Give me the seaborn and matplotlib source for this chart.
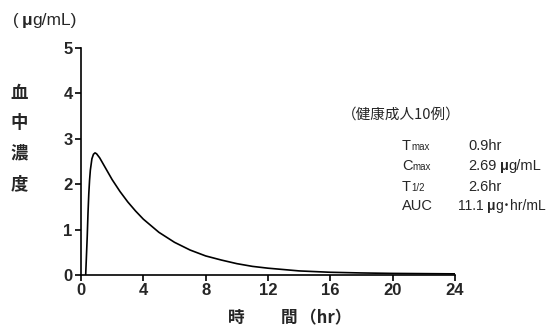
import numpy as np
import pandas as pd
import matplotlib
matplotlib.use("Agg")
import matplotlib.pyplot as plt
import seaborn as sns

# serum concentration
hours = [0.3, 0.4, 0.45, 0.5, 0.55, 0.6, 0.7, 0.8, 0.9, 1.0, 1.2, 1.5, 2.0, 2.5,
         3.0, 3.5, 4.0, 5.0, 6.0, 7.0, 8.0, 9.0, 10.0, 11.0, 12.0, 14.0, 16.0,
         18.0, 20.0, 22.0, 24.0]
conc = [0.0, 0.85, 1.37, 1.79, 2.09, 2.31, 2.56, 2.66, 2.69, 2.67, 2.58, 2.40, 2.10,
        1.84, 1.61, 1.41, 1.23, 0.94, 0.72, 0.55, 0.42, 0.33, 0.25, 0.19, 0.15,
        0.09, 0.06, 0.045, 0.035, 0.03, 0.025]
x_ticks = [0, 4, 8, 12, 16, 20, 24]
y_ticks = [0, 1, 2, 3, 4, 5]
pk_names = [("T", "max"), ("C", "max"), ("T", "1/2"), ("AUC", "")]
pk_values = [["0.9hr"], ["2.69 ", "μ", "g/mL"], ["2.6hr"], ["11.1 ", "μ", "g", "･", "hr/mL"]]

sns.set_style("ticks")
plt.rcParams['font.family'] = ['Liberation Sans', 'Noto Sans CJK JP']

W, H = 548, 327
fig = plt.figure(figsize=(W / 100, H / 100), dpi=100)
ax = fig.add_axes([81 / W, 1 - 275 / H, (455 - 81) / W, (275 - 48) / H])

df = pd.DataFrame({"hr": hours, "conc": conc})
sns.lineplot(data=df, x="hr", y="conc", ax=ax, color="black", linewidth=1.2)

ax.set_xlim(0, 24)
ax.set_ylim(0, 5)
ax.set_xticks(x_ticks)
ax.set_yticks(y_ticks)
ax.set_xlabel("")
ax.set_ylabel("")
sns.despine(ax=ax)
for s in ["left", "bottom"]:
    ax.spines[s].set_linewidth(1.2)
    ax.spines[s].set_color("black")
ax.tick_params(direction="out", length=4, width=1.2, color="black",
               labelsize=12, pad=2)
for lab in ax.get_xticklabels() + ax.get_yticklabels():
    lab.set_fontweight("bold")

cjk = ['Noto Sans CJK JP', 'Liberation Sans']
renderer = fig.canvas.get_renderer()


def ftext(x, y, s, **kw):
    return fig.text(x / W, 1 - y / H, s, **kw)


def run(x, y, pieces, size):
    # draw text pieces one after another on a common baseline
    for s in pieces:
        kw = dict(fontsize=size, va="baseline")
        if s == "μ":
            kw.update(fontweight="bold")
        if s == "･":
            kw.update(family=cjk, fontweight="bold")
        gap = 0
        if s.endswith(" "):
            s = s.rstrip()
            gap = size * 0.3
        t = ftext(x, y, s, **kw)
        x += t.get_window_extent(renderer).width + gap
    return x


# unit and vertical y label
ftext(13, 20, "(", fontsize=12, va="center")
run(22, 24.5, ["μ", "g/mL)"], 12.5)
for i, ch in enumerate("血中濃度"):
    ftext(19, 93 + i * 30.5, ch, fontsize=12.5, va="center", ha="center",
          family=cjk, fontweight="bold")

# x label
ftext(236, 318, "時", fontsize=12, va="center", ha="center", family=cjk, fontweight="bold")
ftext(289, 318, "間", fontsize=12, va="center", ha="center", family=cjk, fontweight="bold")
ftext(300, 318, "（hr）", fontsize=12, va="center", ha="left", family=cjk, fontweight="bold")

# pk parameters box
ftext(342, 115, "（健康成人10例）", fontsize=10.5, va="center", family=cjk)
rows_y = [150, 170, 191, 210]
val_x = [468, 468, 468, 458]
for (big, small), val, y, vx in zip(pk_names, pk_values, rows_y, val_x):
    t = ftext(402, y, big, fontsize=10.5, va="baseline")
    if small:
        ftext(402 + t.get_window_extent(renderer).width, y, small,
              fontsize=7, va="baseline")
    run(vx, y, val, 10.5 if vx == 468 else 10)

fig.savefig("out.png", dpi=100)
